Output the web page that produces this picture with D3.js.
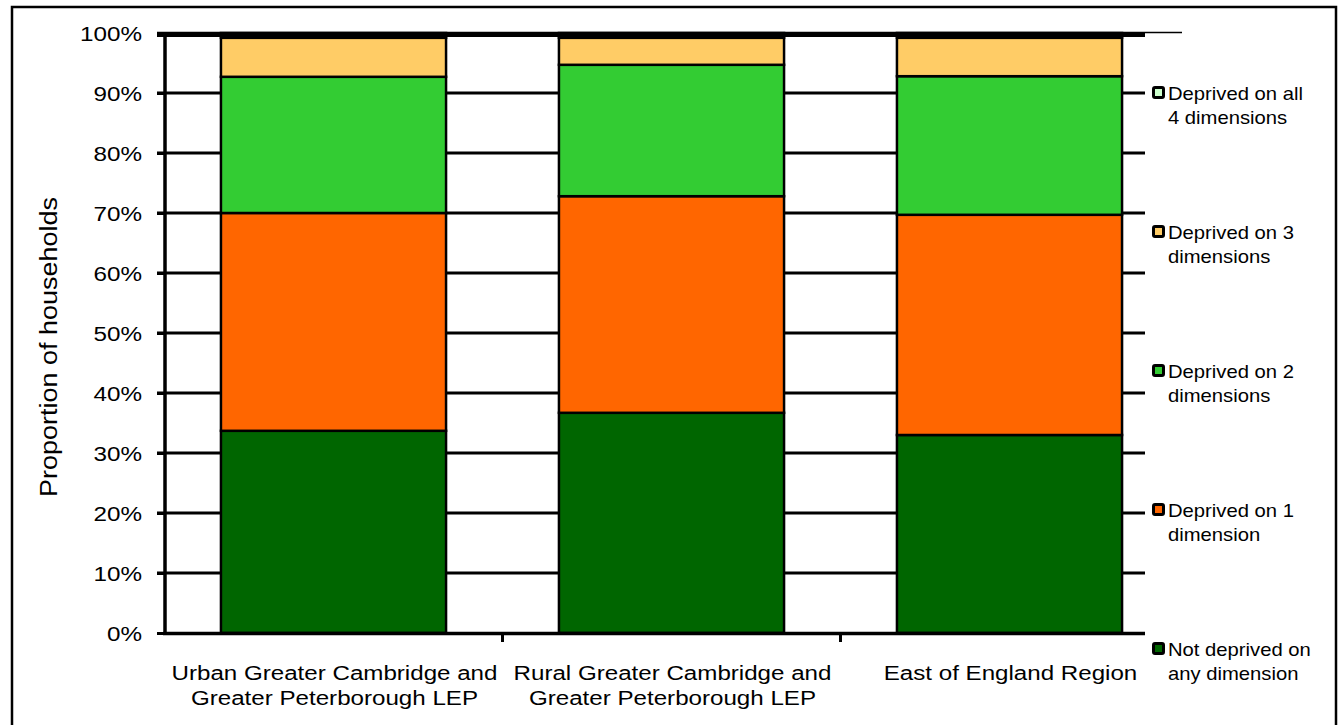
<!DOCTYPE html>
<html><head><meta charset="utf-8">
<script src="https://cdn.jsdelivr.net/npm/d3@7"></script>
<style>
html,body{margin:0;padding:0;background:#fff;}
text{font-family:"Liberation Sans",Arial,sans-serif;fill:#000;}
</style></head>
<body><svg id="chart" width="1338" height="725"></svg>
<script>
const categories = [
  ["Urban Greater Cambridge and", "Greater Peterborough LEP"],
  ["Rural Greater Cambridge and", "Greater Peterborough LEP"],
  ["East of England Region"]
];
const seriesNames = [
  ["Not deprived on", "any dimension"],
  ["Deprived on 1", "dimension"],
  ["Deprived on 2", "dimensions"],
  ["Deprived on 3", "dimensions"],
  ["Deprived on all", "4 dimensions"]
];
const notDeprived = [33.7, 36.7, 33.0];
const deprived1   = [36.3, 36.1, 36.7];
const deprived2   = [22.7, 21.9, 23.1];
const deprived3   = [6.5, 4.5, 6.4];
const deprived4   = [0.8, 0.8, 0.8];
const seriesValues = [notDeprived, deprived1, deprived2, deprived3, deprived4];
const colors = ["#006600", "#FF6600", "#33CC33", "#FFCC66", "#CCFFCC"];
const yTicks = [0,10,20,30,40,50,60,70,80,90,100];

const svg = d3.select("#chart");
// outer border
svg.append("rect").attr("x",12).attr("y",7).attr("width",1324).attr("height",730)
  .attr("fill","none").attr("stroke","#000").attr("stroke-width",2.5);

const y = d3.scaleLinear().domain([0,100]).range([633,33]);
const x = d3.scaleBand().domain(d3.range(categories.length))
  .range([164.5,1178.5]).paddingInner(0.334).paddingOuter(0.167);

// gridlines
svg.append("g").selectAll("line").data(yTicks.filter(d=>d>0 && d<100)).join("line")
  .attr("x1",157).attr("x2",1145).attr("y1",d=>y(d)).attr("y2",d=>y(d))
  .attr("stroke","#000").attr("stroke-width",3);
// top thin line
svg.append("line").attr("x1",157).attr("x2",1182).attr("y1",y(100)-0.5).attr("y2",y(100)-0.5)
  .attr("stroke","#000").attr("stroke-width",1.5);

// stacked bars
const stackData = categories.map((c,i)=>{const o={i}; seriesValues.forEach((s,k)=>o["s"+k]=s[i]); return o;});
const stack = d3.stack().keys(seriesValues.map((s,k)=>"s"+k))(stackData);
svg.append("g").selectAll("g").data(stack).join("g")
  .attr("fill",(d,k)=>colors[k])
  .selectAll("rect").data(d=>d).join("rect")
  .attr("x",d=>x(d.data.i)).attr("width",x.bandwidth())
  .attr("y",d=>y(d[1])).attr("height",d=>y(d[0])-y(d[1]))
  .attr("stroke","#000").attr("stroke-width",2.5);

// thick top line over bars
svg.append("line").attr("x1",157).attr("x2",1145).attr("y1",y(100)+1.5).attr("y2",y(100)+1.5)
  .attr("stroke","#000").attr("stroke-width",5);

// y axis
const yAxis = d3.axisLeft(y).tickValues(yTicks).tickFormat(d=>d+"%").tickSize(8).tickPadding(15);
const yg = svg.append("g").attr("transform","translate(165,0)").call(yAxis);
yg.select(".domain").remove();
yg.selectAll(".tick line").attr("stroke","#000").attr("stroke-width",3);
yg.selectAll(".tick text").style("font-size","21px")
  .attr("font-family",null).attr("dy","0.36em").attr("x",0)
  .attr("transform","translate(-23,0) scale(1.155,1)");
svg.append("line").attr("x1",165).attr("x2",165).attr("y1",y(100)-1).attr("y2",y(0)+2)
  .attr("stroke","#000").attr("stroke-width",3.5);

// x axis
svg.append("line").attr("x1",163).attr("x2",1145).attr("y1",y(0)+0.5).attr("y2",y(0)+0.5)
  .attr("stroke","#000").attr("stroke-width",3.5);
const boundaries = d3.range(categories.length+1).map(i=>x.range()[0]+i*x.step()).filter(v=>v<1145);
svg.append("g").selectAll("line").data(boundaries.slice(1)).join("line")
  .attr("x1",d=>d).attr("x2",d=>d).attr("y1",y(0)).attr("y2",y(0)+9)
  .attr("stroke","#000").attr("stroke-width",3);

const xl = svg.append("g").selectAll("text").data(categories).join("text")
  .attr("transform",(d,i)=>`translate(${x(i)+x.bandwidth()/2+1},680) scale(1.15,1)`)
  .attr("text-anchor","middle").style("font-size","21px");
xl.selectAll("tspan").data(d=>d).join("tspan")
  .attr("x",0).attr("dy",(d,j)=>j===0?0:"25px").text(d=>d);

// y title
svg.append("text").attr("transform","translate(57,347) rotate(-90) scale(1.125,1)")
  .attr("text-anchor","middle").style("font-size","24px")
  .text("Proportion of households");

// legend
const legY = [648, 509, 370, 231, 92];
const lg = svg.append("g").selectAll("g").data(seriesNames).join("g")
  .attr("transform",(d,k)=>`translate(1152,${legY[k]})`);
lg.append("rect").attr("x",1.5).attr("y",-4.5).attr("width",10).attr("height",10)
  .attr("fill",(d,k)=>colors[k]).attr("stroke","#000").attr("stroke-width",3).attr("rx",1.5);
const lt = lg.append("text").attr("transform","translate(16,8) scale(1.125,1)").style("font-size","18px");
lt.selectAll("tspan").data(d=>d).join("tspan").attr("x",0).attr("dy",(d,j)=>j===0?0:"24px").text(d=>d);
</script></body></html>
